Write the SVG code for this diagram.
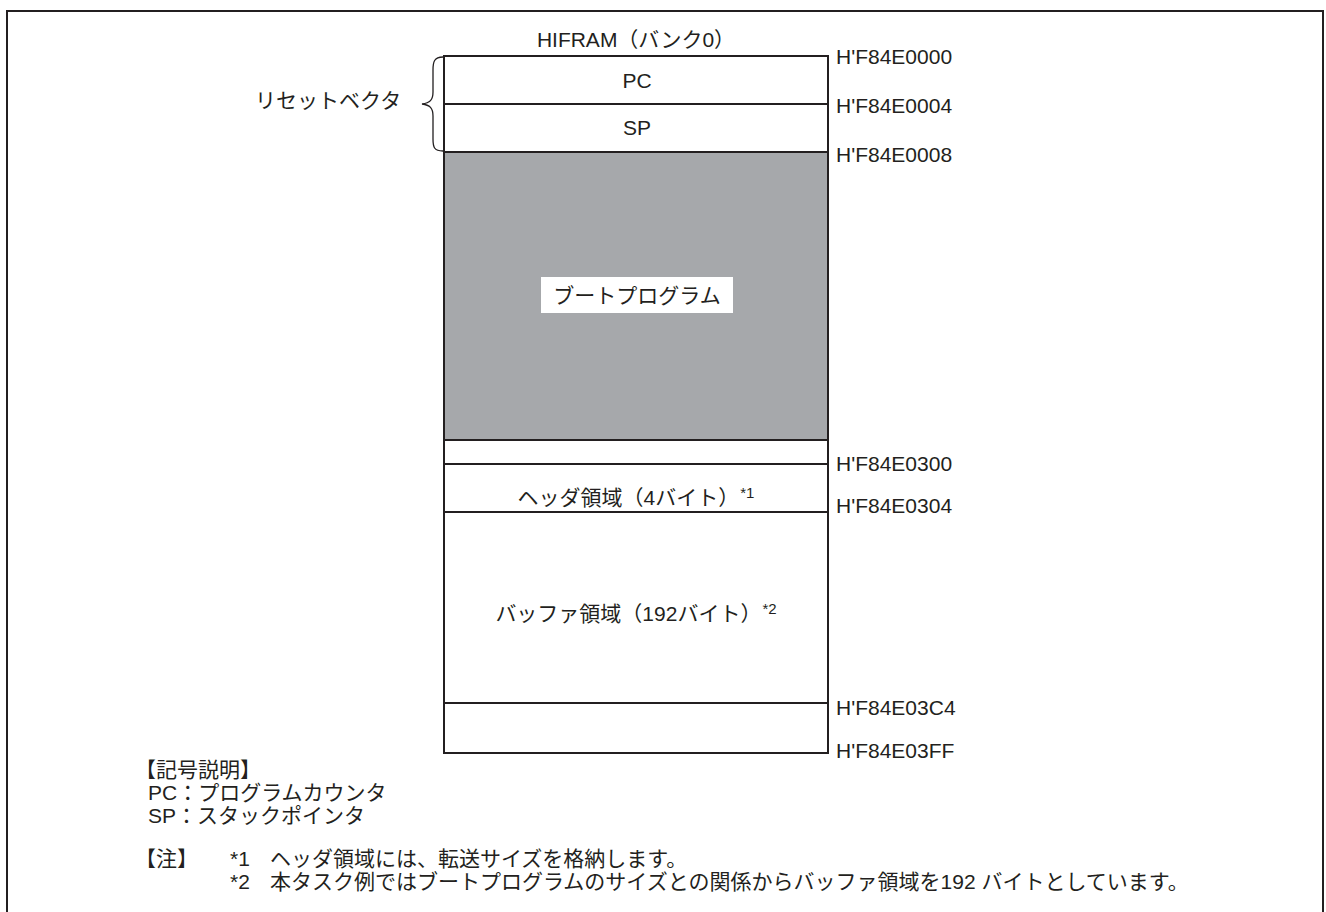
<svg xmlns="http://www.w3.org/2000/svg" width="1326" height="912" viewBox="0 0 1326 912">
<style>
text{font-family:"Liberation Sans","Noto Sans CJK JP",sans-serif;font-size:21px;fill:#231f20}
.c{text-anchor:middle}
.ln{stroke:#231f20;stroke-width:2;fill:none}
.sup{font-size:15px}
</style>
<rect width="1326" height="912" fill="#fff"/>
<path class="ln" d="M7,912 V11 H1323 V912"/>
<g id="title"><text class="c" x="636" y="47">HIFRAM（バンク0）</text></g>
<g id="memory">
<rect x="444" y="152" width="384" height="288" fill="#a6a8ab"/>
<rect class="ln" x="444" y="56" width="384" height="697"/>
<line class="ln" x1="444" y1="104" x2="828" y2="104"/>
<line class="ln" x1="444" y1="152" x2="828" y2="152"/>
<line class="ln" x1="444" y1="440" x2="828" y2="440"/>
<line class="ln" x1="444" y1="464" x2="828" y2="464"/>
<line class="ln" x1="444" y1="512" x2="828" y2="512"/>
<line class="ln" x1="444" y1="703" x2="828" y2="703"/>
</g>
<g id="pc"><text class="c" x="637" y="88">PC</text></g>
<g id="sp"><text class="c" x="637" y="135">SP</text></g>
<g id="boot"><rect x="541" y="277" width="192" height="36" fill="#fff"/><text class="c" x="637" y="303">ブートプログラム</text></g>
<g id="header"><text class="c" x="636" y="505">ヘッダ領域（4バイト）<tspan class="sup" dx="1" dy="-7">*1</tspan></text></g>
<g id="buffer"><text class="c" x="636" y="621">バッファ領域（192バイト）<tspan class="sup" dx="1" dy="-7">*2</tspan></text></g>
<g id="addresses">
<text x="836" y="64">H'F84E0000</text>
<text x="836" y="113">H'F84E0004</text>
<text x="836" y="162">H'F84E0008</text>
<text x="836" y="471">H'F84E0300</text>
<text x="836" y="513">H'F84E0304</text>
<text x="836" y="715">H'F84E03C4</text>
<text x="836" y="758">H'F84E03FF</text>
</g>
<g id="reset">
<text x="255" y="108">リセットベクタ</text>
<path d="M443,57 C434,57 433,62 433,70 V92 C433,100 430,103 422,104 C430,105 433,108 433,116 V139 C433,147 434,151 443,151" fill="none" stroke="#231f20" stroke-width="1.3"/>
</g>
<g id="legend">
<text x="135" y="777">【記号説明】</text>
<text x="148" y="800">PC：プログラムカウンタ</text>
<text x="148" y="823">SP：スタックポインタ</text>
<text x="135" y="866">【注】</text>
<text x="230" y="866">*1</text>
<text x="270" y="866">ヘッダ領域には、転送サイズを格納します。</text>
<text x="230" y="889">*2</text>
<text x="270" y="889">本タスク例ではブートプログラムのサイズとの関係からバッファ領域を192 バイトとしています。</text>
</g>
</svg>
